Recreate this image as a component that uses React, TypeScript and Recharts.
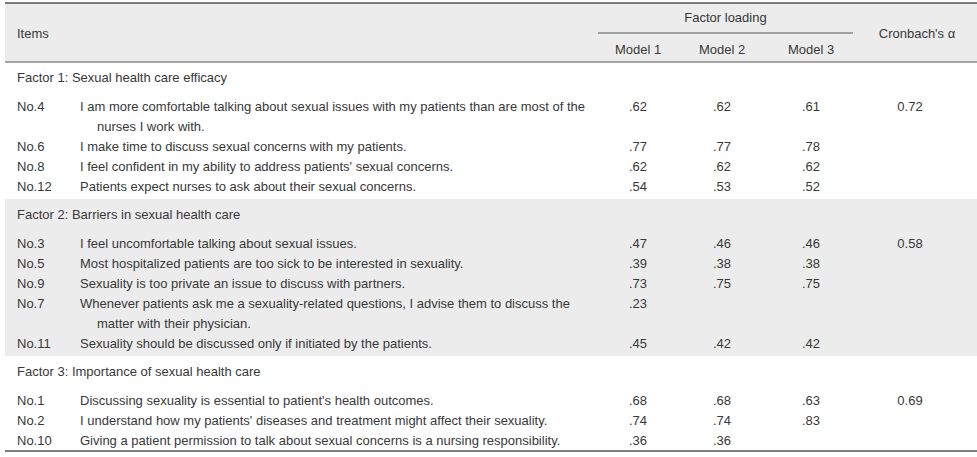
import { ReferenceArea, ReferenceLine, Scatter, ScatterChart, XAxis, YAxis } from "recharts";

const factorTitles = [
  "Factor 1: Sexual health care efficacy",
  "Factor 2: Barriers in sexual health care",
  "Factor 3: Importance of sexual health care",
];

const itemNumbers = [
  ["No.4", "No.6", "No.8", "No.12"],
  ["No.3", "No.5", "No.9", "No.7", "No.11"],
  ["No.1", "No.2", "No.10"],
];

const itemTexts = [
  [
    ["I am more comfortable talking about sexual issues with my patients than are most of the", "nurses I work with."],
    ["I make time to discuss sexual concerns with my patients."],
    ["I feel confident in my ability to address patients' sexual concerns."],
    ["Patients expect nurses to ask about their sexual concerns."],
  ],
  [
    ["I feel uncomfortable talking about sexual issues."],
    ["Most hospitalized patients are too sick to be interested in sexuality."],
    ["Sexuality is too private an issue to discuss with partners."],
    ["Whenever patients ask me a sexuality-related questions, I advise them to discuss the", "matter with their physician."],
    ["Sexuality should be discussed only if initiated by the patients."],
  ],
  [
    ["Discussing sexuality is essential to patient's health outcomes."],
    ["I understand how my patients' diseases and treatment might affect their sexuality."],
    ["Giving a patient permission to talk about sexual concerns is a nursing responsibility."],
  ],
];

const model1 = [
  [0.62, 0.77, 0.62, 0.54],
  [0.47, 0.39, 0.73, 0.23, 0.45],
  [0.68, 0.74, 0.36],
];
const model2 = [
  [0.62, 0.77, 0.62, 0.53],
  [0.46, 0.38, 0.75, null, 0.42],
  [0.68, 0.74, 0.36],
];
const model3 = [
  [0.61, 0.78, 0.62, 0.52],
  [0.46, 0.38, 0.75, null, 0.42],
  [0.63, 0.83, null],
];
const cronbachAlpha = [0.72, 0.58, 0.69];

const modelLabels = ["Model 1", "Model 2", "Model 3"];

const WIDTH = 977;
const HEIGHT = 457;
const FONT = "'Liberation Sans', Arial, sans-serif";
const INK = "#383838";
const RULE = "#555555";
const SHADE = "#ececec";

// column anchors
const LEFT = 5;
const COL_NO = 17;
const COL_TEXT = 80;
const COL_WRAP = 97;
const COL_MODELS = [638, 722, 811];
const COL_ALPHA = 910;

// row layout
const HEADER_TOP = 3;
const HEADER_BOTTOM = 62;
const LINE = 20;
const TITLE_GAP = 15;
const ITEM_GAP = 29;
const SECTION_PAD = 13;

type Cell = { x: number; y: number; label: string; anchor: "start" | "middle" };

const fmt = (v: number | null) => (v == null ? "" : v.toFixed(2).replace(/^0/, ""));

const headerCells: Cell[] = [
  { x: COL_NO, y: 33, label: "Items", anchor: "start" },
  { x: (598 + 853) / 2, y: 17, label: "Factor loading", anchor: "middle" },
  { x: 917, y: 33, label: "Cronbach's \u03b1", anchor: "middle" },
  ...modelLabels.map((m, i) => ({ x: COL_MODELS[i], y: 49, label: m, anchor: "middle" as const })),
];

const titleCells: Cell[] = [];
const numberCells: Cell[] = [];
const textCells: Cell[] = [];
const loadingCells: Cell[] = [];
const alphaCells: Cell[] = [];
const sections: { top: number; bottom: number }[] = [];

let cursor = HEADER_BOTTOM;
let lastLine = 0;
factorTitles.forEach((title, s) => {
  const top = cursor;
  const titleY = top + TITLE_GAP;
  titleCells.push({ x: COL_NO, y: titleY, label: title, anchor: "start" });
  let y = titleY + ITEM_GAP;
  alphaCells.push({ x: COL_ALPHA, y, label: cronbachAlpha[s].toFixed(2), anchor: "middle" });
  itemNumbers[s].forEach((no, i) => {
    numberCells.push({ x: COL_NO, y, label: no, anchor: "start" });
    [model1, model2, model3].forEach((m, k) => {
      const v = m[s][i];
      if (v != null) loadingCells.push({ x: COL_MODELS[k], y, label: fmt(v), anchor: "middle" });
    });
    itemTexts[s][i].forEach((line, j) => {
      textCells.push({ x: j === 0 ? COL_TEXT : COL_WRAP, y, label: line, anchor: "start" });
      lastLine = y;
      y += LINE;
    });
  });
  cursor = lastLine + SECTION_PAD;
  sections.push({ top, bottom: cursor });
});

const TABLE_BOTTOM = lastLine + 11;

const TextMark = (props: any) => {
  const { cx, cy, payload } = props;
  return (
    <text
      x={cx}
      y={cy}
      textAnchor={payload.anchor}
      dominantBaseline="central"
      fontFamily={FONT}
      fontSize={13}
      fill={INK}
    >
      {payload.label}
    </text>
  );
};

export default function App() {
  const series = [headerCells, titleCells, numberCells, textCells, loadingCells, alphaCells];
  return (
    <div style={{ position: "absolute", left: 0, top: 0, background: "#fff" }}>
      <ScatterChart width={WIDTH} height={HEIGHT} margin={{ top: 0, right: 0, bottom: 0, left: 0 }}>
        <XAxis type="number" dataKey="x" domain={[0, WIDTH]} hide />
        <YAxis type="number" dataKey="y" domain={[0, HEIGHT]} reversed hide />
        <ReferenceArea x1={LEFT} x2={WIDTH} y1={HEADER_TOP} y2={HEADER_BOTTOM} fill={SHADE} fillOpacity={1} stroke="none" />
        <ReferenceArea
          x1={LEFT}
          x2={WIDTH}
          y1={sections[1].top}
          y2={sections[1].bottom}
          fill={SHADE}
          fillOpacity={1}
          stroke="none"
        />
        <ReferenceLine segment={[{ x: LEFT, y: HEADER_TOP }, { x: WIDTH, y: HEADER_TOP }]} stroke={RULE} strokeWidth={1.5} />
        <ReferenceLine segment={[{ x: 598, y: 33 }, { x: 853, y: 33 }]} stroke={RULE} strokeWidth={1} />
        <ReferenceLine segment={[{ x: LEFT, y: HEADER_BOTTOM }, { x: WIDTH, y: HEADER_BOTTOM }]} stroke={RULE} strokeWidth={1} />
        <ReferenceLine segment={[{ x: LEFT, y: TABLE_BOTTOM }, { x: WIDTH, y: TABLE_BOTTOM }]} stroke={RULE} strokeWidth={1.5} />
        {series.map((data, i) => (
          <Scatter key={i} data={data} shape={TextMark} isAnimationActive={false} />
        ))}
      </ScatterChart>
    </div>
  );
}
